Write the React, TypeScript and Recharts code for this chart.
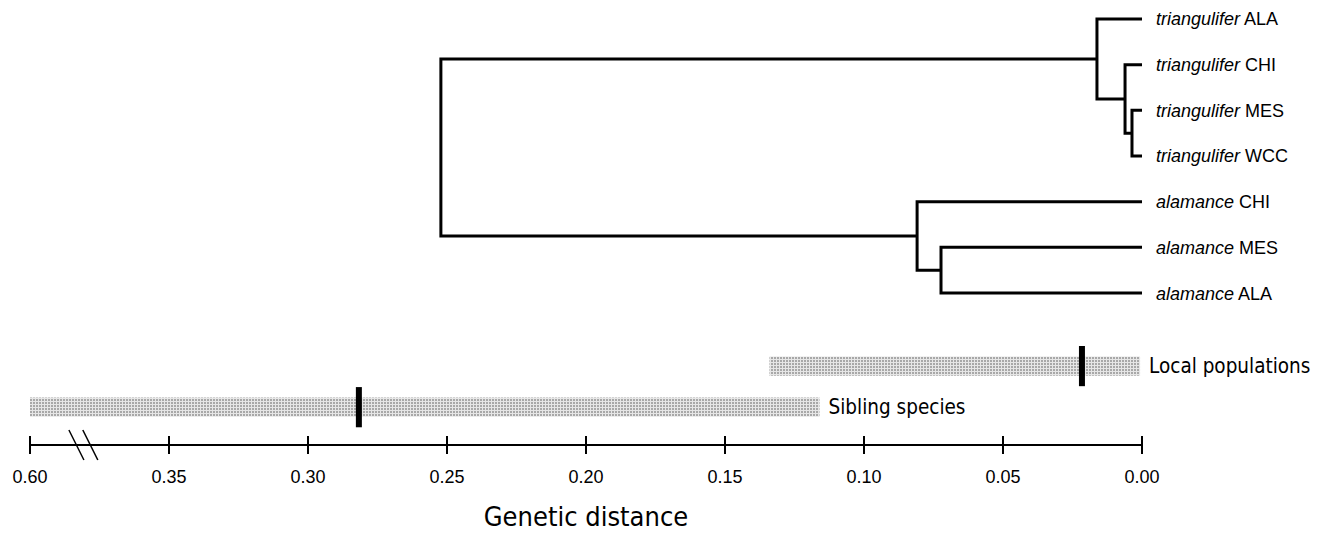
import React from 'react';
import { ComposedChart, Line, XAxis, YAxis, ReferenceArea, ReferenceLine } from 'recharts';

// ---- data ----
const species = ['triangulifer', 'triangulifer', 'triangulifer', 'triangulifer', 'alamance', 'alamance', 'alamance'];
const populations = ['ALA', 'CHI', 'MES', 'WCC', 'CHI', 'MES', 'ALA'];

// internal nodes of the tree: children (leaf "L<i>" or node name) and genetic distance of the join
const nodeNames = ['n1', 'n2', 'n3', 'n4', 'n5', 'root'];
const nodeChildren = [
  ['L2', 'L3'],
  ['L1', 'n1'],
  ['L0', 'n2'],
  ['L5', 'L6'],
  ['L4', 'n4'],
  ['n3', 'n5'],
];
const nodeHeights = [0.0036, 0.0061, 0.0162, 0.0723, 0.0809, 0.2522];

// axis (broken: the leftmost tick stands for 0.60)
const tickValues = [0.4, 0.35, 0.3, 0.25, 0.2, 0.15, 0.1, 0.05, 0.0];
const tickLabels = ['0.60', '0.35', '0.30', '0.25', '0.20', '0.15', '0.10', '0.05', '0.00'];
const axisBreakAt = 0.381;

// ranges of genetic distance
const rangeNames = ['Local populations', 'Sibling species'];
const rangeFrom = [0.0007, 0.116];
const rangeTo = [0.134, 0.4];
const rangeMark = [0.0216, 0.2817];

// ---- layout ----
const FONT = "'Liberation Sans', Arial, Helvetica, sans-serif";
const NARROW = "'DejaVu Sans Condensed', 'Liberation Sans Narrow', sans-serif";
const rangeRows = [7.6, 8.5];
const Y_DOMAIN: [number, number] = [-0.35, 9.328];

function buildTree() {
  const pos: Record<string, { d: number; v: number }> = {};
  populations.forEach((_, i) => {
    pos['L' + i] = { d: 0, v: i };
  });
  const segs: { d: number; v: number }[][] = [];
  nodeNames.forEach((name, i) => {
    const [a, b] = nodeChildren[i];
    const h = nodeHeights[i];
    const pa = pos[a];
    const pb = pos[b];
    segs.push([
      { d: pa.d, v: pa.v },
      { d: h, v: pa.v },
      { d: h, v: pb.v },
      { d: pb.d, v: pb.v },
    ]);
    pos[name] = { d: h, v: (pa.v + pb.v) / 2 };
  });
  return segs;
}

const treeSegments = buildTree();

const XTick = (props: any) => {
  const { x, y, payload, index } = props;
  const i = typeof index === 'number' ? index : tickValues.indexOf(payload.value);
  return (
    <g>
      <line x1={x} x2={x} y1={y - 9} y2={y + 9} stroke="#000" strokeWidth={2} />
      <text x={x} y={y + 38} textAnchor="middle" fontSize={18} fontFamily={FONT} fill="#000">
        {tickLabels[i]}
      </text>
    </g>
  );
};

const LeafTick = (props: any) => {
  const { x, y, payload } = props;
  const i = payload.value as number;
  return (
    <text x={x + 14} y={y + 6.5} fontSize={18} fontFamily={FONT} fill="#000" textAnchor="start">
      <tspan fontStyle="italic">{species[i]}</tspan>
      <tspan>{' ' + populations[i]}</tspan>
    </text>
  );
};

export default function App() {
  return (
    <div style={{ position: 'absolute', left: 0, top: 0, background: '#fff' }}>
      <ComposedChart width={1319} height={535} margin={{ top: 3, right: 0, bottom: 0, left: 30 }}>
        <defs>
          <pattern id="halftone" width="3" height="3" patternUnits="userSpaceOnUse">
            <rect x="0" y="0" width="3" height="3" fill="#e6e6e6" />
            <rect x="0" y="0" width="2" height="2" fill="#a8a8a8" />
          </pattern>
        </defs>
        <XAxis
          type="number"
          dataKey="d"
          domain={[0, 0.4]}
          reversed
          allowDataOverflow
          ticks={tickValues}
          interval={0}
          tickSize={0}
          tickMargin={0}
          tickLine={false}
          tick={<XTick />}
          axisLine={{ stroke: '#000', strokeWidth: 2 }}
          height={90}
          label={{
            value: 'Genetic distance',
            position: 'insideBottom',
            offset: 9,
            fontSize: 27,
            fontFamily: NARROW,
            fill: '#000',
          }}
        />
        <YAxis
          type="number"
          dataKey="v"
          orientation="right"
          domain={Y_DOMAIN}
          reversed
          allowDataOverflow
          ticks={[0, 1, 2, 3, 4, 5, 6]}
          interval={0}
          width={177}
          axisLine={false}
          tickLine={false}
          tickSize={0}
          tickMargin={0}
          tick={<LeafTick />}
        />
        {rangeNames.map((name, i) => (
          <ReferenceArea
            key={name}
            x1={rangeTo[i]}
            x2={rangeFrom[i]}
            y1={rangeRows[i] - 0.21}
            y2={rangeRows[i] + 0.21}
            fill="url(#halftone)"
            fillOpacity={1}
            stroke="none"
            ifOverflow="visible"
            label={{
              value: name,
              position: 'right',
              offset: 9,
              fontSize: 20.5,
              fontFamily: NARROW,
              fill: '#000',
            }}
          />
        ))}
        {rangeNames.map((name, i) => (
          <Line
            key={'mark-' + name}
            data={[
              { d: rangeMark[i], v: rangeRows[i] - 0.44 },
              { d: rangeMark[i], v: rangeRows[i] + 0.44 },
            ]}
            dataKey="v"
            stroke="#000"
            strokeWidth={6}
            dot={false}
            activeDot={false}
            isAnimationActive={false}
          />
        ))}
        {treeSegments.map((seg, i) => (
          <Line
            key={'node-' + i}
            data={seg}
            dataKey="v"
            type="linear"
            stroke="#000"
            strokeWidth={3}
            strokeLinejoin="miter"
            dot={false}
            activeDot={false}
            isAnimationActive={false}
          />
        ))}
        {[-0.0027, 0.0023].map((off) => (
          <ReferenceLine
            key={'brk' + off}
            segment={[
              { x: axisBreakAt + off + 0.0027, y: 9.0 },
              { x: axisBreakAt + off - 0.0027, y: 9.656 },
            ]}
            stroke="#000"
            strokeWidth={1.5}
            ifOverflow="visible"
          />
        ))}
      </ComposedChart>
    </div>
  );
}
